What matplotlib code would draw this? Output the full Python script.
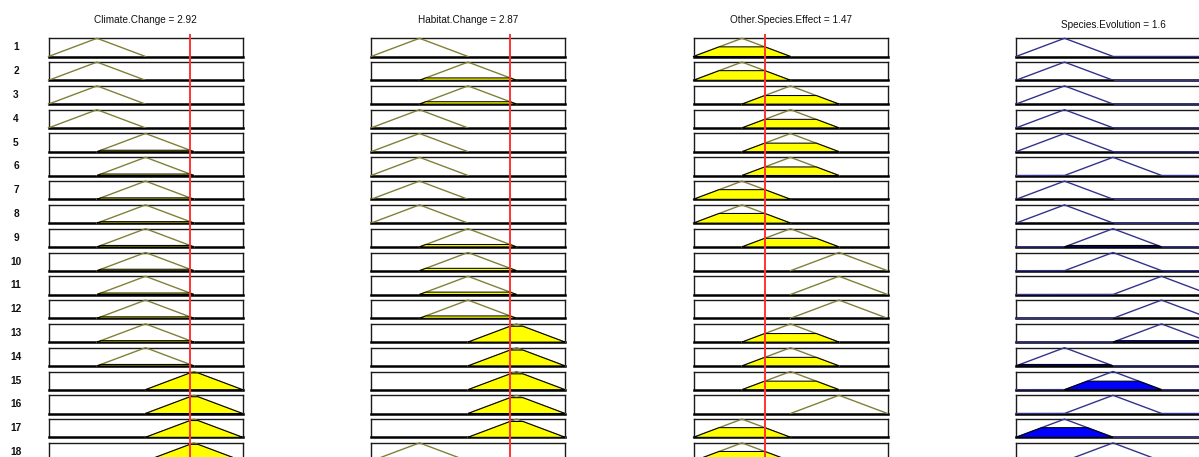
import numpy as np
import matplotlib
matplotlib.use("Agg")
import matplotlib.pyplot as plt

# ---------------- data ----------------
variables = ["Climate.Change", "Habitat.Change", "Other.Species.Effect", "Species.Evolution"]
input_values = [2.92, 2.87, 1.47]
output_value = 1.6
value_range = [0, 4]
mf_params = {"low": [0, 1, 2], "medium": [1, 2, 3], "high": [2, 3, 4]}

rule_numbers = list(range(1, 19))
climate_rules = ["low"] * 4 + ["medium"] * 10 + ["high"] * 4
habitat_rules = ["low", "medium", "medium", "low", "low", "low", "low", "low",
                 "medium", "medium", "medium", "medium",
                 "high", "high", "high", "high", "high", "low"]
other_rules = ["low", "low", "medium", "medium", "medium", "medium", "low", "low",
               "medium", "high", "high", "high", "medium", "medium", "medium",
               "high", "low", "low"]
evolution_rules = ["low", "low", "low", "low", "low", "medium", "low", "low",
                   "medium", "medium", "high", "high", "high", "low", "medium",
                   "medium", "low", "medium"]

# ---------------- layout (pixels) ----------------
W, H = 1199, 457
fig = plt.figure(figsize=(W / 100, H / 100), dpi=100)
fig.patch.set_facecolor("white")
plt.rcParams["font.family"] = ["Liberation Sans", "DejaVu Sans"]

col_left = [48.5, 371.0, 693.5, 1016.0]
box_w = 194.0
row_top0 = 38.3
row_step = 23.8
box_h = 18.2

IN_LINE = (0.50, 0.50, 0.22)
OUT_LINE = (0.20, 0.20, 0.55)
IN_FILL = (1.0, 1.0, 0.0)
OUT_FILL = (0.0, 0.0, 1.0)


def px_axes(x, y_top, w, h):
    return fig.add_axes([x / W, 1 - (y_top + h) / H, w / W, h / H])


def tri(x, p):
    return np.interp(x, p, [0, 1, 0], left=0, right=0)


xs = np.linspace(value_range[0], value_range[1], 801)
rules = [climate_rules, habitat_rules, other_rules, evolution_rules]

for i, rn in enumerate(rule_numbers):
    top = row_top0 + i * row_step
    # membership of each input in this rule
    mus = [tri(np.array([input_values[k]]), mf_params[rules[k][i]])[0] for k in range(3)]
    firing = min(mus)
    for c in range(4):
        ax = px_axes(col_left[c], top, box_w, box_h)
        ax.set_xlim(*value_range)
        ax.set_ylim(0, 1)
        ax.set_xticks([])
        ax.set_yticks([])
        for s in ax.spines.values():
            s.set_color("#1a1a1a")
            s.set_linewidth(1.0)
        ax.spines["bottom"].set_linewidth(1.8)
        ax.spines["bottom"].set_color("black")
        p = mf_params[rules[c][i]]
        line_col = OUT_LINE if c == 3 else IN_LINE
        fill_col = OUT_FILL if c == 3 else IN_FILL
        level = firing if c == 3 else mus[c]
        sel = (xs >= p[0]) & (xs <= p[2])
        lx = xs if c == 3 else xs[sel]
        ax.plot(lx, tri(lx, p), color=line_col, lw=1.0, zorder=3, clip_on=False)
        fx = xs[sel]
        fy = np.minimum(tri(fx, p), level)
        ax.fill(np.r_[fx, fx[::-1]], np.r_[fy, np.zeros_like(fy)],
                facecolor=fill_col, edgecolor="black", lw=0.75, zorder=4,
                clip_on=False)
    fig.text(16 / W, 1 - (top + box_h / 2) / H, str(rn), ha="center", va="center",
             fontsize=7.3, fontweight="bold", color="#111111")

# titles
titles = [f"{variables[k]} = {input_values[k]:g}" for k in range(3)] + \
         [f"{variables[3]} = {output_value:g}"]
title_y = [20, 20, 20, 25]
for c in range(4):
    fig.text((col_left[c] + box_w / 2) / W, 1 - title_y[c] / H, titles[c],
             ha="center", va="center", fontsize=7.2, color="#111111")

# red input lines
for c in range(3):
    ov = px_axes(col_left[c], 34, box_w, H - 34)
    ov.set_xlim(*value_range)
    ov.set_ylim(0, 1)
    ov.axis("off")
    ov.patch.set_alpha(0)
    ov.axvline(input_values[c], color=(1.0, 0.2, 0.2), lw=1.4)

fig.savefig("out.png", dpi=100, facecolor="white")
